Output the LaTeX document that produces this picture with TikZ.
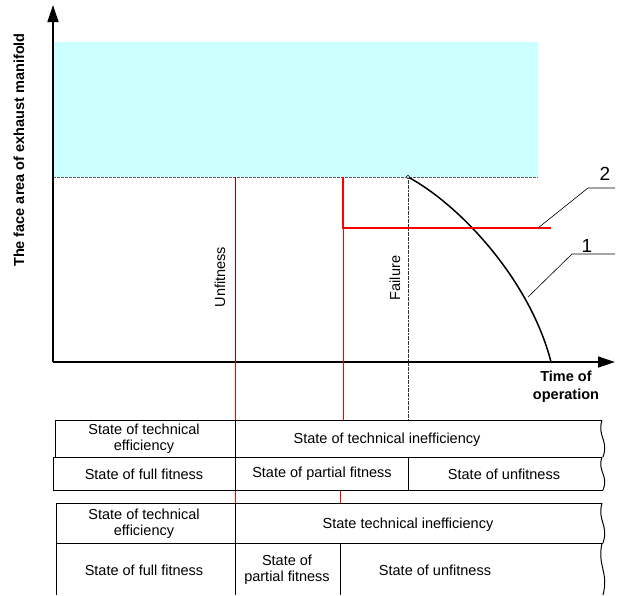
\documentclass[tikz,border=0pt]{standalone}
\usepackage{fontspec}
\setmainfont{Liberation Sans}
\usepackage{tikz}
\usetikzlibrary{arrows.meta}
\usetikzlibrary{calc}
\definecolor{pale}{RGB}{204,255,255}
\definecolor{lred}{RGB}{255,0,0}
\newcommand\wavy[2]{
  \draw[line width=1pt] (602,#1) .. controls (597,{#1+0.45*(#2-#1)}) and (609,{#1+0.55*(#2-#1)}) .. (603,#2);
}
\tikzset{
  txt/.style={font=\fontsize{14.5}{16}\selectfont, align=center, inner sep=0pt},
  bold/.style={font=\fontsize{14.5}{18}\selectfont\bfseries, align=center, inner sep=0pt},
  num/.style={font=\fontsize{19}{20}\selectfont, inner sep=0pt},
  axis/.style={line width=1.3pt, -{Triangle[length=17pt,width=11pt]}},
  tab/.style={line width=1pt},
  thinred/.style={lred, line width=0.7pt}
}

\begin{document}
\begin{tikzpicture}[x=1pt,y=-1pt]
\useasboundingbox (0,0) rectangle (621,595);

% zone above the nominal level
\fill[pale] (53,42) rectangle (538,177);
\draw[gray!70!black, dash pattern=on 3pt off 1pt, line width=0.7pt] (53,177) -- (538,177);

% axes
\coordinate (O) at (53,362);
\draw[axis] (O) -- (53,5);
\draw[axis] (O) -- (615,362);
\node[bold, rotate=90] (ylab) at (19,150) {The face area of exhaust manifold};
\node[bold] (xlab) at (566,387) {Time of\\operation};

% moments
\draw[red!60!black, line width=0.6pt] (235,177) -- (235,362);
\draw[thinred] (235,362) -- (235,420);
\draw[thinred] (235,490) -- (235,503);
\node[txt, rotate=90] (unfit) at (220,277) {Unfitness};
\draw[gray!40!black, dash pattern=on 2pt off 0.6pt, line width=0.6pt] (408,177) -- (408,420);
\node[txt, rotate=90] (fail) at (395,278) {Failure};

% curve 1
\draw[line width=1.5pt] (408,177) .. controls (460,205) and (530,280) .. (551,362);
\draw[line width=0.5pt, fill=white] (408,177) circle (1.8pt);
\coordinate (c1) at (528,297);
\draw[line width=0.6pt] (c1) -- (572,254) -- (615,254);
\node[num] (n1) at (587,246) {1};

% curve 2
\draw[lred, line width=1.6pt] (343,177) -- (343,228) -- (551,228);
\draw[thinred] (343,228) -- (343,420);
\draw[thinred] (340,490) -- (340,503);
\coordinate (c2) at (538,228);
\draw[line width=0.6pt] (c2) -- (588,188) -- (615,188);
\node[num] (n2) at (605,174) {2};

% first table
\draw[tab] (602,420) -- (55,420) -- (55,457);
\draw[tab] (602,457) -- (53,457) -- (53,490) -- (603,490);
\draw[tab] (235,420) -- (235,490);
\draw[tab] (408,457) -- (408,490);
\wavy{420}{457}
\wavy{457}{490}
\node[txt] (eff1) at (144,439) {State of technical\\efficiency};
\node[txt] (ineff1) at (387,440) {State of technical inefficiency};
\node[txt] (full1) at (144,474) {State of full fitness};
\node[txt] (part1) at (322,474) {State of partial fitness};
\node[txt] (unf1) at (504,474) {State of unfitness};

% second table
\draw[tab] (602,503) -- (56,503) -- (56,595);
\draw[tab] (56,543) -- (603,543);
\draw[tab] (235,503) -- (235,595);
\draw[tab] (340,543) -- (340,595);
\wavy{503}{543}
\wavy{543}{595}
\node[txt] (eff2) at (144,524) {State of technical\\efficiency};
\node[txt] (ineff2) at (408,525) {State technical inefficiency};
\node[txt] (full2) at (144,570) {State of full fitness};
\node[txt] (part2) at (287,570) {State of\\partial fitness};
\node[txt] (unf2) at (435,570) {State of unfitness};
\end{tikzpicture}
\end{document}
